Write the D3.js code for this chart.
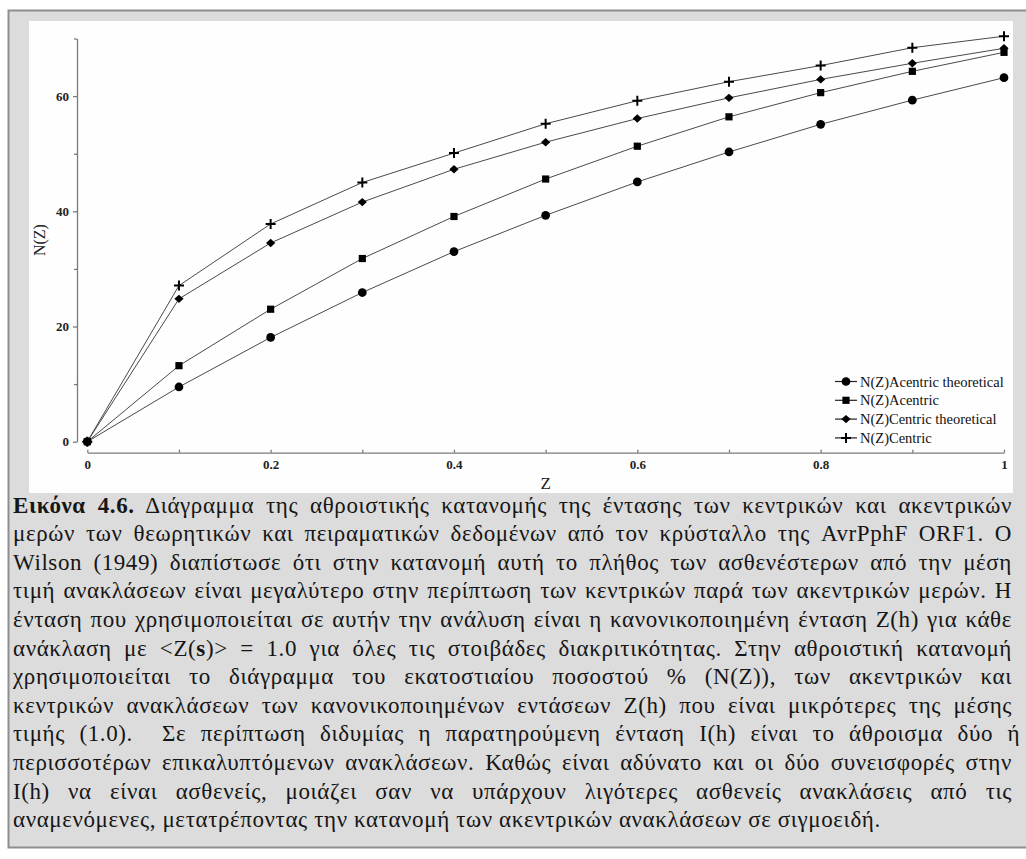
<!DOCTYPE html>
<html lang="el">
<head>
<meta charset="UTF-8">
<title>N(Z) cumulative distribution</title>
<script src="https://d3js.org/d3.v7.min.js"></script>
<style>
    body { margin: 0; background: #fff; }
    #wrap { position: relative; width: 1026px; height: 859px; overflow: hidden; }
    #chart { position: absolute; left: 0; top: 0; }
    #caption {
        position: absolute; left: 13px; top: 491.7px; width: 999px;
        font-family: "Liberation Serif", "DejaVu Serif", serif;
        font-size: 23px; line-height: 28.6px; letter-spacing: 0.6px; color: #161616;
    }
    #caption div { white-space: nowrap; }
</style>
</head>
<body>
<div id="wrap">
    <svg id="chart"></svg>
    <div id="caption"></div>
</div>
<script>
    // values
    const zValues = [0, 0.1, 0.2, 0.3, 0.4, 0.5, 0.6, 0.7, 0.8, 0.9, 1.0];
    const acentricTheoretical = [0, 9.5, 18.1, 25.9, 33.0, 39.3, 45.1, 50.3, 55.1, 59.3, 63.2];
    const acentric = [0, 13.2, 23.0, 31.8, 39.1, 45.6, 51.3, 56.4, 60.6, 64.3, 67.6];
    const centricTheoretical = [0, 24.8, 34.5, 41.6, 47.3, 52.0, 56.1, 59.7, 62.9, 65.7, 68.3];
    const centric = [0, 27.1, 37.8, 45.0, 50.1, 55.2, 59.2, 62.5, 65.3, 68.4, 70.4];

    const seriesNames = ["N(Z)Acentric theoretical", "N(Z)Acentric", "N(Z)Centric theoretical", "N(Z)Centric"];
    const yTicks = [0, 10, 20, 30, 40, 50, 60, 70];
    const xLabel = "Z";
    const yLabel = "N(Z)";

    // caption, one entry per printed line; [text, bold]
    const captionLines = [
        [["Εικόνα 4.6.", true], [" Διάγραμμα της αθροιστικής κατανομής της έντασης των κεντρικών και ακεντρικών", false]],
        [["μερών των θεωρητικών και πειραματικών δεδομένων από τον κρύσταλλο της AvrPphF ORF1. Ο", false]],
        [["Wilson (1949) διαπίστωσε ότι στην κατανομή αυτή το πλήθος των ασθενέστερων από την μέση", false]],
        [["τιμή ανακλάσεων είναι μεγαλύτερο στην περίπτωση των κεντρικών παρά των ακεντρικών μερών. Η", false]],
        [["ένταση που χρησιμοποιείται σε αυτήν την ανάλυση είναι η κανονικοποιημένη ένταση Z(h) για κάθε", false]],
        [["ανάκλαση με <Z(", false], ["s", true], [")> = 1.0 για όλες τις στοιβάδες διακριτικότητας. Στην αθροιστική κατανομή", false]],
        [["χρησιμοποιείται το διάγραμμα του εκατοστιαίου ποσοστού % (N(Z)), των ακεντρικών και", false]],
        [["κεντρικών ανακλάσεων των κανονικοποιημένων εντάσεων Z(h) που είναι μικρότερες της μέσης", false]],
        [["τιμής (1.0).\u00a0 Σε περίπτωση διδυμίας η παρατηρούμενη ένταση I(h) είναι το άθροισμα δύο ή", false]],
        [["περισσοτέρων επικαλυπτόμενων ανακλάσεων. Καθώς είναι αδύνατο και οι δύο συνεισφορές στην", false]],
        [["I(h) να είναι ασθενείς, μοιάζει σαν να υπάρχουν λιγότερες ασθενείς ανακλάσεις από τις", false]],
        [["αναμενόμενες, μετατρέποντας την κατανομή των ακεντρικών ανακλάσεων σε σιγμοειδή.", false]]
    ];

    const width = 1026, height = 859;
    const serif = "'Liberation Serif', 'DejaVu Serif', serif";

    const svg = d3.select("#chart")
        .attr("width", width)
        .attr("height", height)
        .attr("viewBox", [0, 0, width, height]);

    // grey figure frame and white plot panel
    svg.append("rect")
        .attr("x", 8.5).attr("y", 10.5)
        .attr("width", 1040).attr("height", 837)
        .attr("fill", "#dcdcdc")
        .attr("stroke", "#8e8e8e")
        .attr("stroke-width", 2);
    svg.append("rect")
        .attr("x", 29).attr("y", 21)
        .attr("width", 984).attr("height", 472)
        .attr("fill", "#fefefe");

    const x = d3.scaleLinear().domain([0, 1]).range([87.3, 1004]);
    const y = d3.scaleLinear().domain([0, 70]).range([441.7, 38.5]);

    // y axis, detached to the left
    const yAxis = svg.append("g")
        .attr("transform", "translate(77,0)")
        .call(d3.axisLeft(y)
            .tickValues(yTicks)
            .tickSizeInner(4)
            .tickSizeOuter(0)
            .tickPadding(4)
            .tickFormat(d => d % 20 === 0 ? d : ""));
    yAxis.selectAll("text")
        .attr("font-family", serif)
        .attr("font-size", 13)
        .attr("font-weight", "bold")
        .attr("fill", "#222");
    yAxis.selectAll(".tick line").attr("x2", d => d % 20 === 0 ? -4 : -3);
    yAxis.selectAll("line, path").attr("stroke", "#7a7a7a").attr("stroke-width", 1.3);

    // x axis, detached below
    const xAxis = svg.append("g")
        .attr("transform", "translate(0,452.7)")
        .call(d3.axisBottom(x)
            .tickValues(zValues)
            .tickSizeInner(-3)
            .tickSizeOuter(0)
            .tickPadding(7)
            .tickFormat((d, i) => i % 2 === 0 ? d3.format("~g")(d) : ""));
    xAxis.selectAll("text")
        .attr("font-family", serif)
        .attr("font-size", 13)
        .attr("font-weight", "bold")
        .attr("fill", "#222");
    xAxis.selectAll("line, path").attr("stroke", "#7a7a7a").attr("stroke-width", 1.3);

    svg.append("text")
        .attr("x", (x(0) + x(1)) / 2)
        .attr("y", 489)
        .attr("text-anchor", "middle")
        .attr("font-family", serif)
        .attr("font-size", 17)
        .attr("fill", "#222")
        .text(xLabel);

    svg.append("text")
        .attr("transform", `translate(45,${y(35)}) rotate(-90)`)
        .attr("text-anchor", "middle")
        .attr("font-family", serif)
        .attr("font-size", 16)
        .attr("fill", "#222")
        .text(yLabel);

    // markers
    const markers = [
        d3.symbol(d3.symbolCircle, 60)(),
        "M-3.6,-3.6H3.6V3.6H-3.6Z",
        "M-4.6,0L0,-4.2L4.6,0L0,4.2Z",
        "M-5,0H5M0,-5V5"
    ];
    const allSeries = [acentricTheoretical, acentric, centricTheoretical, centric];

    const line = d3.line()
        .x((d, i) => x(zValues[i]))
        .y(d => y(d));

    allSeries.forEach(vals => {
        svg.append("path")
            .attr("d", line(vals))
            .attr("fill", "none")
            .attr("stroke", "#4a4a4a")
            .attr("stroke-width", 1);
    });
    allSeries.forEach((vals, s) => {
        svg.append("g").selectAll("path")
            .data(vals)
            .join("path")
            .attr("transform", (d, i) => `translate(${x(zValues[i])},${y(d)})`)
            .attr("d", markers[s])
            .attr("fill", s === 3 ? "none" : "#000")
            .attr("stroke", s === 3 ? "#000" : "none")
            .attr("stroke-width", 2);
    });

    // legend
    const legend = svg.append("g").attr("transform", "translate(835,381.5)");
    seriesNames.forEach((name, s) => {
        const row = legend.append("g").attr("transform", `translate(0,${s * 18.8})`);
        row.append("line")
            .attr("x1", 0).attr("x2", 22)
            .attr("stroke", "#222").attr("stroke-width", 1.2);
        row.append("path")
            .attr("transform", "translate(11,0)")
            .attr("d", markers[s])
            .attr("fill", s === 3 ? "none" : "#000")
            .attr("stroke", s === 3 ? "#000" : "none")
            .attr("stroke-width", 2);
        row.append("text")
            .attr("x", 25).attr("y", 5)
            .attr("font-family", serif)
            .attr("font-size", 14.5)
            .attr("fill", "#111")
            .text(name);
    });

    // caption text under the plot, justified by spreading the word gaps
    const cap = d3.select("#caption");
    const boxWidth = 999;
    captionLines.forEach((segs, i) => {
        const div = cap.append("div");
        const inner = div.append("span");
        segs.forEach(([t, b]) => {
            inner.append("span").style("font-weight", b ? "bold" : null).text(t);
        });
        if (i < captionLines.length - 1) {
            const natural = inner.node().getBoundingClientRect().width;
            const gaps = (segs.map(s => s[0]).join("").match(/ /g) || []).length;
            if (gaps > 0) div.style("word-spacing", ((boxWidth - natural) / gaps) + "px");
        }
    });
</script>
</body>
</html>
